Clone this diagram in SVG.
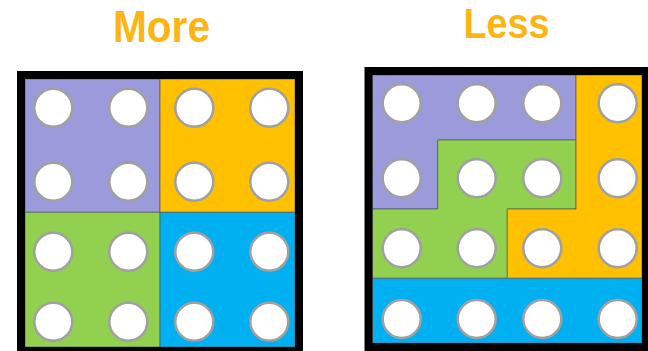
<svg xmlns="http://www.w3.org/2000/svg" width="648" height="351" viewBox="0 0 648 351">
<style>
.title{font-family:"Liberation Sans",Arial,sans-serif;font-weight:bold;fill:#FDB515}
.reg{stroke:#4a4a4a;stroke-opacity:0.6;stroke-width:1}
.p{fill:#9B9BDC}.o{fill:#FFC000}.g{fill:#92D050}.b{fill:#00B0F0}
.frame{fill:none;stroke:#000;stroke-width:8}
circle{fill:#fff;stroke:#A0A0A0;stroke-width:2.5}
</style>
<rect width="648" height="351" fill="#fff"/>
<text class="title" x="113" y="42" font-size="44" textLength="97" lengthAdjust="spacingAndGlyphs">More</text>
<text class="title" x="463.5" y="38" font-size="42" textLength="86" lengthAdjust="spacingAndGlyphs">Less</text>

<g id="more">
  <g id="more-purple"><rect class="reg p" x="25" y="79" width="135" height="133.3"/></g>
  <g id="more-orange"><rect class="reg o" x="160" y="79" width="135" height="133.3"/></g>
  <g id="more-green"><rect class="reg g" x="25" y="212.3" width="135" height="134.7"/></g>
  <g id="more-blue"><rect class="reg b" x="160" y="212.3" width="135" height="134.7"/></g>
  <rect class="frame" x="21" y="75" width="278" height="276"/>
  <g id="more-circles">
    <circle cx="53.3" cy="107.7" r="19"/><circle cx="128.3" cy="107.7" r="19"/><circle cx="194.3" cy="107.7" r="19"/><circle cx="269.3" cy="107.7" r="19"/>
    <circle cx="53.3" cy="181.7" r="19"/><circle cx="128.3" cy="181.7" r="19"/><circle cx="194.3" cy="181.7" r="19"/><circle cx="269.3" cy="181.7" r="19"/>
    <circle cx="53.3" cy="251.7" r="19"/><circle cx="128.3" cy="251.7" r="19"/><circle cx="194.3" cy="251.7" r="19"/><circle cx="269.3" cy="251.7" r="19"/>
    <circle cx="53.3" cy="321.7" r="19"/><circle cx="128.3" cy="321.7" r="19"/><circle cx="194.3" cy="321.7" r="19"/><circle cx="269.3" cy="321.7" r="19"/>
  </g>
</g>

<g id="less">
  <g id="less-purple"><polygon class="reg p" points="372.5,75 576,75 576,140 437.7,140 437.7,209 372.5,209"/></g>
  <g id="less-green"><polygon class="reg g" points="372.5,209 437.7,209 437.7,140 576,140 576,209 507.3,209 507.3,278.3 372.5,278.3"/></g>
  <g id="less-orange"><polygon class="reg o" points="576,75 642,75 642,278.3 507.3,278.3 507.3,209 576,209"/></g>
  <g id="less-blue"><rect class="reg b" x="372.5" y="278.3" width="269.5" height="65"/></g>
  <rect class="frame" x="368.5" y="71" width="277.5" height="276"/>
  <g id="less-circles">
    <circle cx="401.7" cy="103.3" r="19"/><circle cx="476.7" cy="103.3" r="19"/><circle cx="542.3" cy="103.3" r="19"/><circle cx="617.7" cy="103.3" r="19"/>
    <circle cx="401.7" cy="178.3" r="19"/><circle cx="476.7" cy="178.3" r="19"/><circle cx="542.3" cy="178.3" r="19"/><circle cx="617.7" cy="178.3" r="19"/>
    <circle cx="401.7" cy="248.3" r="19"/><circle cx="476.7" cy="248.3" r="19"/><circle cx="542.3" cy="248.3" r="19"/><circle cx="617.7" cy="248.3" r="19"/>
    <circle cx="401.7" cy="319" r="19"/><circle cx="476.7" cy="319" r="19"/><circle cx="542.3" cy="319" r="19"/><circle cx="617.7" cy="319" r="19"/>
  </g>
</g>
</svg>
